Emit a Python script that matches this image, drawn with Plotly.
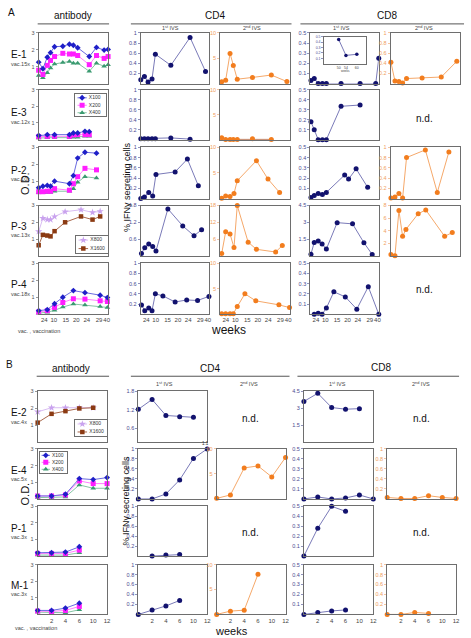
import plotly.graph_objects as go

W, H = 471, 638
FONT = "Arial, Liberation Sans, sans-serif"

# ---------------- axis tick labels ----------------
A_TICK_TEXT = ['2', '4', '10', '15', '20', '24', '29', '40']
A_TICK_POS = [5.7, 10.6, 21.8, 39.1, 54.3, 69.3, 86.9, 98.0]   # positions on panel-A time axis (0-100)
B_WEEK_CATS = [0, 2, 4, 6, 10, 12]                             # panel-B time axis (evenly spaced categories)
B_TICK_TEXT = ['2', '4', '6', '10', '12']
INSET_WEEKS_TICKS = [50, 54, 60]

# ---------------- Panel A : antibody (O.D.) ----------------
e1_ab_pos = [0, 6.1, 12.4, 17.1, 22.9, 34.8, 44.3, 50, 56.2, 72.9, 83.3, 94.3, 100]
e1_x100 = [1.27, 0.88, 1.56, 1.83, 2.18, 2.21, 2.33, 2.27, 2.12, 1.6, 2.14, 1.98, 2.02]
e1_x200 = [0.79, 0.54, 1.08, 1.37, 1.6, 1.79, 1.75, 1.75, 1.66, 1.12, 1.66, 1.49, 1.6]
e1_x400 = [0.48, 0.35, 0.64, 0.92, 1.16, 1.25, 1.31, 1.21, 1.21, 0.73, 1.21, 1.02, 1.12]

e3_ab_pos = [0, 12.4, 22.9, 44.3, 50, 56.2, 66.7, 72.9]
e3_x100 = [0.25, 0.3, 0.3, 0.3, 0.4, 0.4, 0.5, 0.48]
e3_x200 = [0.18, 0.2, 0.2, 0.2, 0.28, 0.3, 0.3, 0.3]
e3_x400 = [0.1, 0.12, 0.12, 0.12, 0.15, 0.15, 0.2, 0.2]

p2_ab_pos = [0, 6.1, 12.4, 17.1, 22.9, 44.3, 50, 56.2, 66.7, 83.3]
p2_x100 = [0.64, 0.72, 0.77, 0.72, 1.02, 0.87, 1.34, 2.37, 2.71, 2.66]
p2_x200 = [0.4, 0.4, 0.43, 0.43, 0.58, 0.49, 0.87, 1.28, 1.77, 1.68]
p2_x400 = [0.34, 0.34, 0.36, 0.36, 0.43, 0.43, 0.58, 0.96, 1.28, 1.2]

p3_ab_pos = [0, 6.1, 12.4, 17.1, 22.9, 38.1, 61, 77.6, 88.6]
p3_x800 = [1.45, 2.24, 2.16, 2.16, 2.34, 2.63, 2.75, 2.59, 2.65]
p3_x1600 = [0.63, 1.25, 1.21, 1.16, 1.47, 2.0, 2.35, 2.16, 2.35]

p4_ab_pos = [0, 12.4, 22.9, 34.8, 50, 66.7, 88.6, 99]
p4_x100 = [0.21, 0.27, 0.62, 1.0, 1.39, 1.27, 1.12, 0.98]
p4_x200 = [0.13, 0.21, 0.4, 0.69, 0.91, 0.89, 0.79, 0.75]
p4_x400 = [0.06, 0.12, 0.23, 0.42, 0.6, 0.54, 0.46, 0.4]

# ---------------- Panel A : CD4 1st IVS ----------------
e1_cd4a_pos = [0, 5.3, 10.6, 16.4, 21.3, 43.9, 72.0, 94.6]
e1_cd4a = [0.075, 0.14, 0.03, 0.09, 0.58, 0.36, 0.91, 0.24]
e3_cd4a_pos = [0, 5.3, 10.6, 16.4, 21.3, 43.9, 72.0]
e3_cd4a = [0.02, 0.02, 0.02, 0.02, 0.02, 0.035, 0.01]
p2_cd4a_pos = [0, 5.3, 11.6, 17.4, 22.2, 50.2, 68.1, 84.1]
p2_cd4a = [0, 0.03, 0.12, 0.05, 0.47, 0.52, 0.77, 0.25]
p3_cd4a_pos = [1, 5.8, 11.6, 17.4, 22.2, 39.6, 61.3, 77.8, 88.9]
p3_cd4a = [0.08, 0.29, 0.42, 0.33, 0.17, 1.68, 1.07, 0.72, 0.93]
p4_cd4a_pos = [1, 5.8, 11.6, 16.4, 21.3, 32.3, 50.2, 67.1, 83, 99.6]
p4_cd4a = [0.18, 0.07, 0.12, 0.07, 0.4, 0.36, 0.24, 0.28, 0.27, 0.35]

# ---------------- Panel A : CD4 2nd IVS ----------------
e1_cd4b_pos = [2.3, 8, 14.3, 19, 24.7, 46.6, 73.8, 96.2]
e1_cd4b = [0.35, 0.67, 5.94, 3.59, 0.87, 1.22, 1.69, 0.41]
e3_cd4b_pos = [2.3, 8, 14.3, 19, 24.7, 46.6, 73.8]
e3_cd4b = [0.4, 0.05, 0.05, 0.05, 0.05, 0.2, 0.05]
p2_cd4b_pos = [2.3, 8, 14.3, 20, 24.7, 52.3, 69, 85.7]
p2_cd4b = [0.06, 0.52, 0.39, 0.98, 3.47, 7.39, 3.8, 1.18]
p3_cd4b_pos = [2.3, 8, 14.3, 20, 24.7, 40.4, 52.3, 80, 89.6]
p3_cd4b = [0.84, 8.57, 7.83, 2.94, 18, 4.89, 2.32, 1.36, 3.68]
p4_cd4b_pos = [2.3, 8, 14.3, 19, 24.7, 35.7, 51.4, 84.7, 100]
p4_cd4b = [0.08, 0.08, 0.08, 0.08, 1.5, 4.0, 2.63, 1.84, 1.3]

# ---------------- Panel A : CD8 1st IVS ----------------
e1_cd8a_pos = [0.9, 5.7, 11.5, 17.6, 23.4, 44.9, 72.7, 95.6, 100]
e1_cd8a = [0.03, 0.05, 0, 0, 0, 0, 0, 0, 0.25]
inset_weeks = [50, 54, 60]
inset_cd8a = [0.45, 0.155, 0.175]
e3_cd8a_pos = [0.9, 5.7, 11.5, 17.6, 23.4, 44.9, 72.7]
e3_cd8a = [0.18, 0.1, 0, 0, 0, 0.333, 0.346]
p2_cd8a_pos = [0.9, 5.7, 11.5, 17.6, 23.4, 50.2, 55.9, 66.9, 83.8]
p2_cd8a = [0.01, 0.03, 0.05, 0.04, 0.06, 0.23, 0.19, 0.29, 0.11]
p3_cd8a_pos = [0.9, 5.7, 11.5, 17.2, 23.4, 39.2, 61.7, 78.3, 90.4]
p3_cd8a = [0.15, 1.2, 1.32, 1.05, 0.6, 2.97, 2.86, 1.17, 0.12]
p4_cd8a_pos = [5.7, 11.5, 17.2, 23.4, 34.4, 51.1, 67.9, 84.7, 100]
p4_cd8a = [0, 0.01, 0, 0.06, 0.22, 0.17, 0.05, 0.27, 0]

# ---------------- Panel A : CD8 2nd IVS ----------------
e1_cd8b_pos = [0.4, 6.2, 11.9, 17.2, 22.9, 45.3, 72.9, 95.3]
e1_cd8b = [0.42, 0.05, 0.04, 0.01, 0.1, 0.11, 0.13, 0.44]
p2_cd8b_pos = [0.4, 6.2, 11.9, 17.2, 22.9, 50, 67.2, 83.9]
p2_cd8b = [0.01, 0.03, 0.1, 0.01, 0.8, 0.95, 0.12, 0.91]
p3_cd8b_pos = [0.4, 6.2, 11.9, 17.2, 22, 39.7, 50.6, 77.8, 88.8]
p3_cd8b = [0.2, 0, 7.2, 3.1, 4.2, 6.7, 7.3, 3.1, 3.7]

# ---------------- Panel B ----------------
e2_weeks = [0, 2, 4, 6, 10]
e2_x800 = [1.78, 2.02, 2.02, 2.02, 2.02]
e2_x1600 = [1.14, 1.66, 1.82, 1.98, 2.02]
e4_weeks = [0, 2, 4, 6, 10, 12]
e4_x100 = [0.18, 0.18, 0.28, 1.22, 1.16, 1.28]
e4_x200 = [0.18, 0.18, 0.24, 1.08, 0.92, 0.92]
e4_x400 = [0.08, 0.08, 0.12, 0.84, 0.64, 0.64]
p1_weeks = [0, 2, 4, 6]
p1_x100 = [0.2, 0.2, 0.24, 0.56]
p1_x200 = [0.16, 0.16, 0.16, 0.36]
p1_x400 = [0.06, 0.06, 0.06, 0.2]
m1_weeks = [0, 2, 4, 6]
m1_x100 = [0.24, 0.24, 0.38, 0.68]
m1_x200 = [0.2, 0.18, 0.24, 0.48]
m1_x400 = [0.14, 0.1, 0.1, 0.28]

e2_cd4a = [1.21, 1.53, 1.01, 0.97, 0.95]
e4_cd4a = [0, 0, 0.1, 0.38, 0.81, 1.0]
p1_cd4a_weeks = [2, 4, 6]
p1_cd4a = [0, 0.02, 0.03]
m1_cd4a = [0, 0.09, 0.17, 0.28]
e4_cd4b = [0.12, 0.8, 6.2, 6.6, 4.4, 8.3]
m1_cd4b = [0, 0.66, 0.86, 8.06]

e2_cd8a = [3.59, 4.31, 3.05, 2.9, 2.95]
e4_cd8a = [0, 0.02, 0, 0.01, 0.04, 0]
p1_cd8a = [0, 0.28, 0.5, 0.45]
m1_cd8a = [0, 0.02, 0.035, 0.045]
e4_cd8b = [0.03, 0.01, 0.01, 0.065, 0.03, 0.01]
m1_cd8b = [0, 0, 0.04, 0.02]

# ---------------- styles ----------------
BOX = '#6e6e6e'
NAVY, NAVY_L, NAVY_T = '#12126e', '#7a7ab8', '#4a4a90'
ORG, ORG_L, ORG_T = '#f27d1e', '#f5a86a', '#f0a060'
AB_T = '#555555'
S100 = dict(m='#1f1fc8', l='#6a6ae0', sym='diamond', s=4.5)
S200 = dict(m='#ff1eff', l='#ff80ff', sym='square', s=5)
S400 = dict(m='#3a9a70', l='#86c4a4', sym='triangle-up', s=5)
S800 = dict(m='#c9a2ee', l='#d9bdf2', sym='star', s=5.5)
S1600 = dict(m='#8b3a12', l='#a8674a', sym='square', s=4.5)

fig = go.Figure()
layout_axes = {}
count = [0]


def new_axes(xpx, ypx, xr, yr, ytv=None, ytt=None, ycol=AB_T, xtv=None, xtt=None,
             box=True, xfs=6, yfs=5.5):
    count[0] += 1
    n = count[0]
    sx = '' if n == 1 else str(n)
    xa = dict(domain=[xpx[0] / W, xpx[1] / W], range=xr, showgrid=False, zeroline=False,
              showline=box, mirror=box, linecolor=BOX, linewidth=1, anchor='y' + sx,
              fixedrange=True, ticks='')
    if xtv is not None:
        xa.update(tickmode='array', tickvals=xtv, ticktext=xtt, showticklabels=True,
                  tickangle=0, tickfont=dict(size=xfs, color='#444'))
    else:
        xa.update(showticklabels=False)
    ya = dict(domain=[1 - ypx[1] / H, 1 - ypx[0] / H], range=yr, showgrid=False,
              zeroline=False, showline=box, mirror=box, linecolor=BOX, linewidth=1,
              anchor='x' + sx, fixedrange=True)
    if ytv is not None:
        ya.update(tickmode='array', tickvals=ytv, ticktext=ytt, showticklabels=True,
                  ticks='outside', ticklen=2, tickwidth=0.6, tickcolor=ycol,
                  tickfont=dict(size=yfs, color=ycol))
    else:
        ya.update(showticklabels=False, ticks='')
    layout_axes['xaxis' + sx] = xa
    layout_axes['yaxis' + sx] = ya
    return 'x' + sx, 'y' + sx


def series(ax, x, y, mcol, lcol, sym='circle', size=5):
    fig.add_trace(go.Scatter(x=x, y=y, mode='lines+markers', xaxis=ax[0], yaxis=ax[1],
                             line=dict(color=lcol, width=1),
                             marker=dict(color=mcol, size=size, symbol=sym, line=dict(width=0)),
                             cliponaxis=False, showlegend=False, hoverinfo='skip'))


def st(ax, x, y, s):
    series(ax, x, y, s['m'], s['l'], s['sym'], s['s'])


def legend_box(xpx, ypx, names, styles):
    ax = new_axes(xpx, ypx, [0, 1], [0, 1])
    n = len(names)
    for k, (name, s) in enumerate(zip(names, styles)):
        yy = 1 - (k + 0.5) / n
        fig.add_trace(go.Scatter(x=[0.07, 0.37], y=[yy, yy], mode='lines', xaxis=ax[0], yaxis=ax[1],
                                 line=dict(color=s['l'], width=1), showlegend=False, hoverinfo='skip'))
        fig.add_trace(go.Scatter(x=[0.22], y=[yy], mode='markers', xaxis=ax[0], yaxis=ax[1],
                                 marker=dict(color=s['m'], size=s['s'], symbol=s['sym'], line=dict(width=0)),
                                 showlegend=False, hoverinfo='skip'))
        fig.add_trace(go.Scatter(x=[0.44], y=[yy], mode='text', text=[name], textposition='middle right',
                                 textfont=dict(size=5, color='#333'), xaxis=ax[0], yaxis=ax[1],
                                 showlegend=False, hoverinfo='skip', cliponaxis=False))


# tick sets
T_AB = dict(ytv=[1, 2, 3], ytt=['1', '2', '3'], ycol=AB_T)
T_1 = lambda c: dict(ytv=[0.2, 0.4, 0.6, 0.8, 1], ytt=['0.2', '0.4', '0.6', '0.8', '1'], ycol=c)
T_05 = dict(ytv=[0.1, 0.2, 0.3, 0.4, 0.5], ytt=['0.1', '0.2', '0.3', '0.4', '0.5'], ycol=NAVY_T)
T_18 = dict(ytv=[0.6, 1.2, 1.8], ytt=['0.6', '1.2', '1.8'], ycol=NAVY_T)
T_45 = dict(ytv=[1.5, 3, 4.5], ytt=['1.5', '3', '4.5'], ycol=NAVY_T)
T_10 = dict(ytv=[5, 10], ytt=['5', '10'], ycol=ORG_T)
T_18o = dict(ytv=[6, 12, 18], ytt=['6', '12', '18'], ycol=ORG_T)
T_8o = dict(ytv=[2, 4, 6, 8], ytt=['2', '4', '6', '8'], ycol=ORG_T)

# ---------------- Panel A layout ----------------
A_ROWS = [(30, 81), (87, 137.3), (145, 196.5), (203.5, 254), (261.5, 312.7)]
XC_AB = (39, 109)
XC_4A = (142, 211)
XC_4B = (222, 292)
XC_8A = (313, 382)
XC_8B = (394, 464)
XA = [0, 100]
BOT = dict(xtv=A_TICK_POS, xtt=A_TICK_TEXT)

# antibody
ax = new_axes(XC_AB, A_ROWS[0], XA, [0, 3], **T_AB)
st(ax, e1_ab_pos, e1_x400, S400); st(ax, e1_ab_pos, e1_x200, S200); st(ax, e1_ab_pos, e1_x100, S100)
ax = new_axes(XC_AB, A_ROWS[1], XA, [0, 3], **T_AB)
st(ax, e3_ab_pos, e3_x400, S400); st(ax, e3_ab_pos, e3_x200, S200); st(ax, e3_ab_pos, e3_x100, S100)
ax = new_axes(XC_AB, A_ROWS[2], XA, [0, 3], **T_AB)
st(ax, p2_ab_pos, p2_x400, S400); st(ax, p2_ab_pos, p2_x200, S200); st(ax, p2_ab_pos, p2_x100, S100)
ax = new_axes(XC_AB, A_ROWS[3], XA, [0, 3], **T_AB)
st(ax, p3_ab_pos, p3_x800, S800); st(ax, p3_ab_pos, p3_x1600, S1600)
ax = new_axes(XC_AB, A_ROWS[4], XA, [0, 3], **T_AB, **BOT)
st(ax, p4_ab_pos, p4_x400, S400); st(ax, p4_ab_pos, p4_x200, S200); st(ax, p4_ab_pos, p4_x100, S100)

# CD4 1st IVS
ax = new_axes(XC_4A, A_ROWS[0], XA, [0, 1], **T_1(NAVY_T)); series(ax, e1_cd4a_pos, e1_cd4a, NAVY, NAVY_L)
ax = new_axes(XC_4A, A_ROWS[1], XA, [0, 1], **T_1(NAVY_T)); series(ax, e3_cd4a_pos, e3_cd4a, NAVY, NAVY_L)
ax = new_axes(XC_4A, A_ROWS[2], XA, [0, 1], **T_1(NAVY_T)); series(ax, p2_cd4a_pos, p2_cd4a, NAVY, NAVY_L)
ax = new_axes(XC_4A, A_ROWS[3], XA, [0, 1.8], **T_18); series(ax, p3_cd4a_pos, p3_cd4a, NAVY, NAVY_L)
ax = new_axes(XC_4A, A_ROWS[4], XA, [0, 1], **T_1(NAVY_T), **BOT); series(ax, p4_cd4a_pos, p4_cd4a, NAVY, NAVY_L)

# CD4 2nd IVS
ax = new_axes(XC_4B, A_ROWS[0], XA, [0, 10], **T_10); series(ax, e1_cd4b_pos, e1_cd4b, ORG, ORG_L)
ax = new_axes(XC_4B, A_ROWS[1], XA, [0, 10], **T_10); series(ax, e3_cd4b_pos, e3_cd4b, ORG, '#b0603a')
ax = new_axes(XC_4B, A_ROWS[2], XA, [0, 10], **T_10); series(ax, p2_cd4b_pos, p2_cd4b, ORG, ORG_L)
ax = new_axes(XC_4B, A_ROWS[3], XA, [0, 18], **T_18o); series(ax, p3_cd4b_pos, p3_cd4b, ORG, ORG_L)
ax = new_axes(XC_4B, A_ROWS[4], XA, [0, 10], **T_10, **BOT); series(ax, p4_cd4b_pos, p4_cd4b, ORG, ORG_L)

# CD8 1st IVS
ax = new_axes(XC_8A, A_ROWS[0], XA, [0, 0.5], **T_05); series(ax, e1_cd8a_pos, e1_cd8a, NAVY, NAVY_L)
ax = new_axes((327, 369), (34, 61), [42, 65], [0, 0.5], ytv=[0.1, 0.2, 0.3, 0.4, 0.5],
              ytt=['0.1', '0.2', '0.3', '0.4', '0.5'], ycol=NAVY_T, yfs=3.5,
              xtv=INSET_WEEKS_TICKS, xtt=[str(v) for v in INSET_WEEKS_TICKS], xfs=3.5)
series(ax, inset_weeks, inset_cd8a, NAVY, NAVY_L, size=3.5)
ax = new_axes(XC_8A, A_ROWS[1], XA, [0, 0.5], **T_05); series(ax, e3_cd8a_pos, e3_cd8a, NAVY, NAVY_L)
ax = new_axes(XC_8A, A_ROWS[2], XA, [0, 0.5], **T_05); series(ax, p2_cd8a_pos, p2_cd8a, NAVY, NAVY_L)
ax = new_axes(XC_8A, A_ROWS[3], XA, [0, 4.5], **T_45); series(ax, p3_cd8a_pos, p3_cd8a, NAVY, NAVY_L)
ax = new_axes(XC_8A, A_ROWS[4], XA, [0, 0.5], **T_05, **BOT); series(ax, p4_cd8a_pos, p4_cd8a, NAVY, NAVY_L)

# CD8 2nd IVS
ax = new_axes(XC_8B, A_ROWS[0], XA, [0, 1], **T_1(ORG_T)); series(ax, e1_cd8b_pos, e1_cd8b, ORG, ORG_L)
ax = new_axes(XC_8B, A_ROWS[2], XA, [0, 1], **T_1(ORG_T)); series(ax, p2_cd8b_pos, p2_cd8b, ORG, ORG_L)
ax = new_axes(XC_8B, A_ROWS[3], XA, [0, 8], **T_8o); series(ax, p3_cd8b_pos, p3_cd8b, ORG, ORG_L)
new_axes(XC_8B, A_ROWS[4], XA, [0, 1], box=False, **BOT)   # tick labels only (n.d.)

# legends panel A
legend_box((76, 107), (91.5, 114), ['X100', 'X200', 'X400'], [S100, S200, S400])
legend_box((77, 109), (234, 251), ['X800', 'X1600'], [S800, S1600])

# ---------------- Panel B layout ----------------
B_ROWS = [(390, 441), (448, 498.3), (505.7, 555.7), (564.3, 614.3)]
XB_AB = (38, 108)
XB_4A = (139.5, 209)
XB_4B = (218.5, 288)
XB_8A = (306.5, 376.5)
XB_8B = (390.5, 460)
XBR = [0, len(B_WEEK_CATS) - 1]
BBOT = dict(xtv=list(range(1, len(B_WEEK_CATS))), xtt=B_TICK_TEXT)


def bi(weeks):
    return [B_WEEK_CATS.index(w) for w in weeks]


ax = new_axes(XB_AB, B_ROWS[0], XBR, [0, 3], **T_AB)
st(ax, bi(e2_weeks), e2_x800, S800); st(ax, bi(e2_weeks), e2_x1600, S1600)
ax = new_axes(XB_AB, B_ROWS[1], XBR, [0, 3], **T_AB)
st(ax, bi(e4_weeks), e4_x400, S400); st(ax, bi(e4_weeks), e4_x200, S200); st(ax, bi(e4_weeks), e4_x100, S100)
ax = new_axes(XB_AB, B_ROWS[2], XBR, [0, 3], **T_AB)
st(ax, bi(p1_weeks), p1_x400, S400); st(ax, bi(p1_weeks), p1_x200, S200); st(ax, bi(p1_weeks), p1_x100, S100)
ax = new_axes(XB_AB, B_ROWS[3], XBR, [0, 3], **T_AB, **BBOT)
st(ax, bi(m1_weeks), m1_x400, S400); st(ax, bi(m1_weeks), m1_x200, S200); st(ax, bi(m1_weeks), m1_x100, S100)

ax = new_axes(XB_4A, B_ROWS[0], XBR, [0.15, 1.8], **T_18); series(ax, bi(e2_weeks), e2_cd4a, NAVY, NAVY_L)
ax = new_axes(XB_4A, B_ROWS[1], XBR, [0, 1], **T_1(NAVY_T)); series(ax, bi(e4_weeks), e4_cd4a, NAVY, NAVY_L)
ax = new_axes(XB_4A, B_ROWS[2], XBR, [0, 1], **T_1(NAVY_T)); series(ax, bi(p1_cd4a_weeks), p1_cd4a, NAVY, NAVY_L)
ax = new_axes(XB_4A, B_ROWS[3], XBR, [0, 1], **T_1(NAVY_T), **BBOT); series(ax, bi(m1_weeks), m1_cd4a, NAVY, NAVY_L)

ax = new_axes(XB_4B, B_ROWS[1], XBR, [0, 10], **T_10); series(ax, bi(e4_weeks), e4_cd4b, ORG, ORG_L)
ax = new_axes(XB_4B, B_ROWS[3], XBR, [0, 10], **T_10, **BBOT); series(ax, bi(m1_weeks), m1_cd4b, ORG, ORG_L)

ax = new_axes(XB_8A, B_ROWS[0], XBR, [0, 4.5], **T_45); series(ax, bi(e2_weeks), e2_cd8a, NAVY, NAVY_L)
ax = new_axes(XB_8A, B_ROWS[1], XBR, [0, 0.5], **T_05); series(ax, bi(e4_weeks), e4_cd8a, NAVY, NAVY_L)
ax = new_axes(XB_8A, B_ROWS[2], XBR, [0, 0.5], **T_05); series(ax, bi(p1_weeks), p1_cd8a, NAVY, NAVY_L)
ax = new_axes(XB_8A, B_ROWS[3], XBR, [0, 0.5], **T_05, **BBOT); series(ax, bi(m1_weeks), m1_cd8a, NAVY, NAVY_L)

ax = new_axes(XB_8B, B_ROWS[1], XBR, [0, 1], **T_1(ORG_T)); series(ax, bi(e4_weeks), e4_cd8b, ORG, ORG_L)
ax = new_axes(XB_8B, B_ROWS[3], XBR, [0, 1], **T_1(ORG_T), **BBOT); series(ax, bi(m1_weeks), m1_cd8b, ORG, ORG_L)

legend_box((76, 108), (419, 435), ['X800', 'X1600'], [S800, S1600])
legend_box((40, 68), (451, 472), ['X100', 'X200', 'X400'], [S100, S200, S400])

# ---------------- text ----------------
anns = []


def T(x, y, text, size, color='#111', xa='center', ya='middle', angle=0):
    anns.append(dict(x=x / W, y=1 - y / H, xref='paper', yref='paper', text=text, showarrow=False,
                     font=dict(size=size, color=color, family=FONT), xanchor=xa, yanchor=ya,
                     textangle=angle))


shapes = []


def L(x0, y0, x1, y1, color='#555', w=1):
    shapes.append(dict(type='line', xref='paper', yref='paper', x0=x0 / W, x1=x1 / W,
                       y0=1 - y0 / H, y1=1 - y1 / H, line=dict(color=color, width=w)))


# Panel A headers
T(12, 10, 'A', 10)
T(74, 13, 'antibody', 10); L(38, 21, 110, 21)
T(217, 13, 'CD4', 10); L(132, 21, 294, 21)
T(390, 13, 'CD8', 10); L(303, 21, 468, 21)
T(172, 25.5, '1<sup>st</sup> IVS', 5.5, '#444')
T(254, 25.5, '2<sup>nd</sup> IVS', 5.5, '#444')
T(344, 25.5, '1<sup>st</sup> IVS', 5.5, '#444')
T(428, 25.5, '2<sup>nd</sup> IVS', 5.5, '#444')
for (lab, vac), (yy, yv) in zip([('E-1', 'vac.15x'), ('E-3', 'vac.12x'), ('P-2', 'vac.10x'),
                                 ('P-3', 'vac.13x'), ('P-4', 'vac.18x')],
                                [(52, 61.5), (110.5, 119.5), (168, 177), (224.5, 233.5), (283, 292)]):
    T(9, yy, lab, 10, xa='left')
    T(9.5, yv, vac, 5.5, '#444', xa='left')
T(25, 181, 'O.D.', 11, angle=-90)
T(128, 185, '% IFNγ secreting cells', 9, angle=-90)
T(230, 329, 'weeks', 12)
T(16, 329.5, 'vac. , vaccination', 5.5, '#444', xa='left')
T(428, 116, 'n.d.', 10)
T(428, 288, 'n.d.', 10)
T(348, 68.5, 'weeks', 3, '#444')

# Panel B headers
T(10, 363, 'B', 10)
T(72, 367, 'antibody', 10); L(37, 375, 110, 375)
T(212, 367, 'CD4', 10); L(132, 375, 292, 375)
T(384, 366, 'CD8', 10); L(300, 375, 463, 375)
T(166, 383, '1<sup>st</sup> IVS', 5.5, '#444')
T(251, 383, '2<sup>nd</sup> IVS', 5.5, '#444')
T(340, 383, '1<sup>st</sup> IVS', 5.5, '#444')
T(425, 383, '2<sup>nd</sup> IVS', 5.5, '#444')
for (lab, vac), (yy, yv) in zip([('E-2', 'vac.4x'), ('E-4', 'vac.5x'), ('P-1', 'vac.3x'), ('M-1', 'vac.3x')],
                                [(411, 420.5), (469.5, 478.5), (527.5, 536.5), (585, 594)]):
    T(9, yy, lab, 10, xa='left')
    T(9.5, yv, vac, 5.5, '#444', xa='left')
T(25, 493, 'O.D.', 11, angle=-90)
T(127, 500, '% IFNγ secreting cells', 9, angle=-90)
T(233, 631, 'weeks', 11)
T(13, 628, 'vac. , vaccination', 5.5, '#444', xa='left')
T(253, 417, 'n.d.', 10)
T(253, 532, 'n.d.', 10)
T(425, 417, 'n.d.', 10)
T(425, 532, 'n.d.', 10)
T(207, 443, '1.1', 4.5, '#333')

fig.update_layout(width=W, height=H, margin=dict(l=0, r=0, t=0, b=0, pad=0),
                  paper_bgcolor='white', plot_bgcolor='white', showlegend=False,
                  font=dict(family=FONT), annotations=anns, shapes=shapes, **layout_axes)
fig.write_html("out.html", config={'displayModeBar': False, 'staticPlot': True},
               post_script="document.body.style.margin='0';")
